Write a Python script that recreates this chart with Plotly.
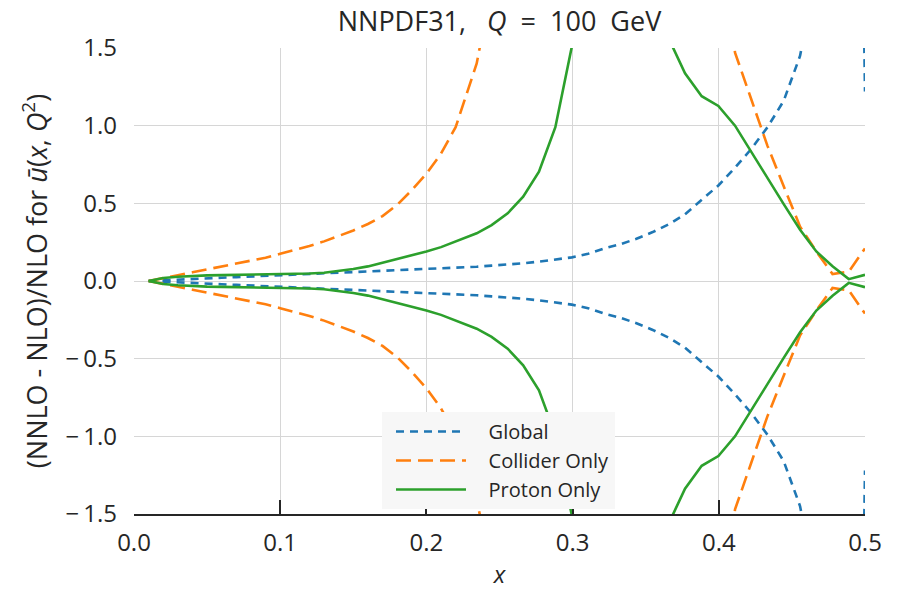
import plotly.graph_objects as go

# x grid (momentum fraction)
X = [0.01, 0.02, 0.03, 0.04, 0.05, 0.06, 0.07, 0.08, 0.09, 0.10, 0.11,
     0.12, 0.13, 0.14, 0.15, 0.16, 0.17, 0.18, 0.19, 0.20, 0.21, 0.22,
     0.2344, 0.2446, 0.2556, 0.2662, 0.2770, 0.2882, 0.2995, 0.3106,
     0.3216, 0.3327, 0.3437, 0.3548, 0.3658, 0.3769, 0.3883, 0.3997,
     0.4111, 0.4222, 0.4333, 0.4444, 0.4556, 0.4667, 0.4778, 0.4889, 0.5000]

# |(NNLO - NLO)/NLO| envelope for each fit (plotted as +/- band edges)
GLOBAL = [0.0, 0.005, 0.009, 0.013, 0.017, 0.021, 0.025, 0.029, 0.033, 0.037,
          0.041, 0.045, 0.048, 0.052, 0.055, 0.059, 0.062, 0.066, 0.070, 0.074,
          0.078, 0.083,
          0.092, 0.099, 0.106, 0.114, 0.125, 0.138, 0.152, 0.175, 0.210, 0.237,
          0.272, 0.315, 0.365, 0.430, 0.525, 0.615, 0.730, 0.850, 0.990, 1.160,
          1.450, 2.000, 3.000, 8.000, 1.220]

COLLIDER = [0.0, 0.017, 0.037, 0.056, 0.074, 0.093, 0.111, 0.130, 0.150, 0.175,
            0.198, 0.225, 0.255, 0.288, 0.325, 0.367, 0.418, 0.490, 0.585, 0.690,
            0.820, 0.990,
            1.400, 1.900, 2.600, 3.500, 4.500, 5.500, 6.400, 7.200, 7.800, 8.000,
            7.800, 7.000, 6.000, 4.800, 3.600, 2.400, 1.470, 1.170, 0.870, 0.610,
            0.350, 0.190, 0.045, 0.060, 0.210]

PROTON = [0.0, 0.019, 0.027, 0.033, 0.036, 0.038, 0.039, 0.040, 0.042, 0.043,
          0.045, 0.048, 0.053, 0.063, 0.077, 0.094, 0.117, 0.142, 0.165, 0.190,
          0.218, 0.255,
          0.307, 0.360, 0.436, 0.543, 0.704, 0.990, 1.510, 2.300, 3.000, 3.500,
          3.300, 2.500, 1.560, 1.337, 1.190, 1.127, 1.000, 0.830, 0.665, 0.495,
          0.330, 0.190, 0.095, 0.012, 0.040]

SERIES = [
    ("Global", GLOBAL, "#1f77b4", "8px,6px"),
    ("Collider Only", COLLIDER, "#ff7f0e", "15px,7px"),
    ("Proton Only", PROTON, "#2ca02c", "solid"),
]

X_TICKS = [0.0, 0.1, 0.2, 0.3, 0.4, 0.5]
X_LABELS = ["0.0", "0.1", "0.2", "0.3", "0.4", "0.5"]
Y_TICKS = [-1.5, -1.0, -0.5, 0.0, 0.5, 1.0, 1.5]
Y_LABELS = ["\u2212\u20091.5", "\u2212\u20091.0", "\u2212\u20090.5", "0.0", "0.5", "1.0", "1.5"]

FONT = "Open Sans"
TXT = "#262626"
NB = "\u00a0"

W, H = 897, 590
PL, PR, PT, PB = 134, 865, 48, 514   # plot area in pixels

fig = go.Figure()
for name, vals, color, dash in SERIES:
    fig.add_trace(go.Scatter(
        x=X, y=vals, mode="lines", name=NB * 3 + "\u200a" + name,
        legendgroup=name,
        line=dict(color=color, width=2.6, dash=dash), showlegend=True))
    fig.add_trace(go.Scatter(
        x=X, y=[-v for v in vals], mode="lines", name=name, legendgroup=name,
        line=dict(color=color, width=2.6, dash=dash), showlegend=False))

title_txt = ("NNPDF31," + NB * 3 + "<i>Q</i>" + NB * 2 + "=" + NB * 2 +
             "100" + NB * 2 + "GeV")

fig.update_layout(
    width=W, height=H,
    margin=dict(l=PL, r=W - PR, t=PT, b=H - PB, autoexpand=False),
    paper_bgcolor="white", plot_bgcolor="white",
    font=dict(family=FONT, color=TXT, size=24),
    title=dict(text=title_txt, x=0.5, xref="paper",
               xanchor="center", y=(H - 22) / H, yanchor="middle",
               font=dict(size=27, color=TXT, family=FONT)),
    legend=dict(x=(382 - PL) / (PR - PL), y=(PB - 412) / (PB - PT),
                xanchor="left", yanchor="top", bgcolor="#f7f7f7",
                borderwidth=0, font=dict(size=20, color=TXT, family=FONT),
                itemwidth=70, indentation=9, tracegroupgap=0),
    showlegend=True,
)
fig.update_xaxes(
    range=[0, 0.5], tickvals=X_TICKS, ticktext=X_LABELS, automargin=False,
    showgrid=True, gridcolor="#d6d6d6", gridwidth=1.2, zeroline=False,
    showline=True, linecolor=TXT, linewidth=2,
    ticks="inside", ticklen=14, tickwidth=2, tickcolor=TXT,
    tickfont=dict(size=24, color=TXT), ticklabelstandoff=6,
    title=dict(text="<i>x</i>", font=dict(size=24, color=TXT), standoff=19),
)
fig.update_yaxes(
    range=[-1.5, 1.5], tickvals=Y_TICKS, ticktext=Y_LABELS, automargin=False,
    showgrid=True, gridcolor="#d6d6d6", gridwidth=1.2, zeroline=False,
    showline=False, ticks="",
    tickfont=dict(size=24, color=TXT), ticklabelstandoff=16,
    title=dict(text="(NNLO - NLO)/NLO for <i>ū</i>(<i>x</i>, <i>Q</i><sup>2</sup>)",
               font=dict(size=27, color=TXT), standoff=10),
)

# remove the default 8px page margin so the figure sits at the window origin
fig.write_html("out.html", config={"displayModeBar": False},
               post_script="document.body.style.margin='0px';")
